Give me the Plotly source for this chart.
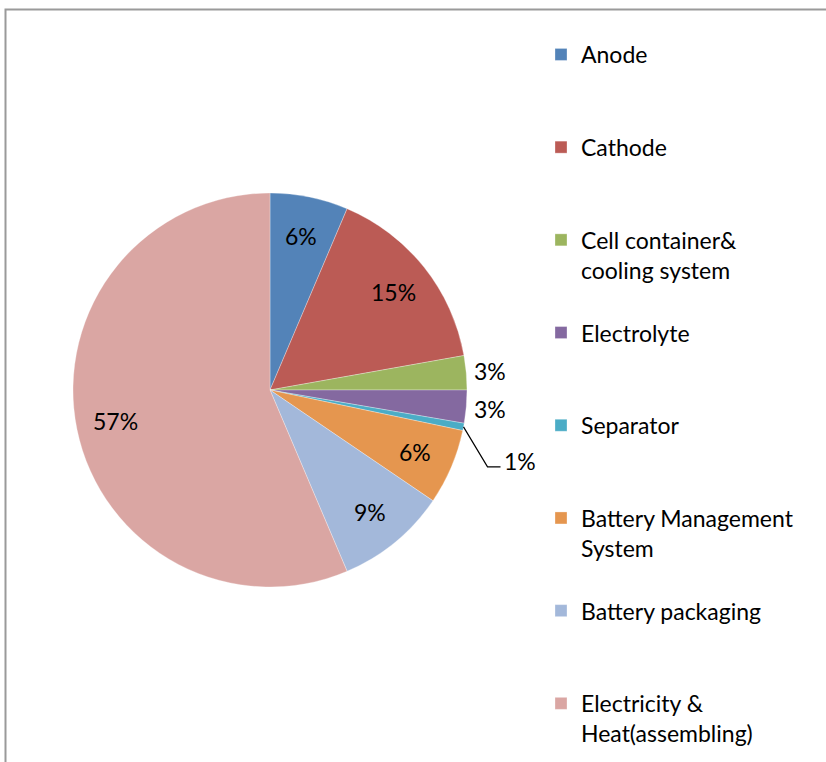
import math
import plotly.graph_objects as go

categories = ["Anode", "Cathode", "Cell container&<br>cooling system", "Electrolyte",
              "Separator", "Battery Management<br>System", "Battery packaging",
              "Electricity &<br>Heat(assembling)"]
values = [6.4, 15.8, 2.8, 2.7, 0.6, 6.2, 9.1, 56.4]
pct_labels = ["6%", "15%", "3%", "3%", "1%", "6%", "9%", "57%"]
colors = ["#5383B8", "#BB5B55", "#9CB55F", "#8469A0", "#4BACC6", "#E5964F", "#A3B8DA", "#DAA6A3"]
label_place = ["inside", "inside", "outside", "outside", "leader", "inside", "inside", "inside"]

W, H = 826, 762
cx, cy, r = 270, 390, 197

# pad legend entries to equal line counts so entries are evenly spaced
def pad(lbl, n=3):
    k = lbl.count("<br>") + 1
    return lbl + "<br> " * (n - k)

legend_labels = [pad(c) for c in categories[:-1]] + [categories[-1]]

fig = go.Figure(go.Pie(
    labels=legend_labels,
    values=values,
    textinfo="none",
    sort=False,
    direction="clockwise",
    rotation=0,
    marker=dict(colors=colors, line=dict(color="rgba(255,255,255,0.6)", width=0.5)),
    domain=dict(x=[(cx - r) / W, (cx + r) / W], y=[(H - cy - r) / H, (H - cy + r) / H]),
    hoverinfo="label+percent",
))

# data labels positioned along each slice's mid-angle (Excel-like placement)
total = sum(values)
annotations = []
shapes = [dict(type="path", xref="paper", yref="paper",
               path=f"M {5.5/W} -0.01 L {5.5/W} {1-9.5/H} L 1.01 {1-9.5/H}",
               line=dict(color="#9a9a9a", width=2))]

def to_paper(px, py):
    return px / W, (H - py) / H

cum = 0.0
for v, lab, place in zip(values, pct_labels, label_place):
    mid = (cum + v / 2) / total * 2 * math.pi
    cum += v
    sx, sy = math.sin(mid), -math.cos(mid)
    font = dict(family="Lato", size=23, color="black")
    if place in ("inside", "outside"):
        rr = r * (0.8 if place == "inside" else 1.12)
        x, y = to_paper(cx + rr * sx, cy + rr * sy)
        annotations.append(dict(x=x, y=y, xref="paper", yref="paper", text=lab,
                                showarrow=False, font=font, xanchor="center", yanchor="middle"))
    else:
        ex, ey = cx + r * sx, cy + r * sy
        kx, ky = ex + 24, ey + 40
        hx, hy = kx + 13, ky
        p0, p1, p2 = to_paper(ex, ey), to_paper(kx, ky), to_paper(hx, hy)
        shapes.append(dict(type="path", xref="paper", yref="paper",
                           path=f"M {p0[0]} {p0[1]} L {p1[0]} {p1[1]} L {p2[0]} {p2[1]}",
                           line=dict(color="black", width=1.2)))
        x, y = to_paper(hx + 1, hy - 6)
        annotations.append(dict(x=x, y=y, xref="paper", yref="paper", text=lab,
                                showarrow=False, font=font, xanchor="left", yanchor="middle"))

fig.update_layout(
    width=W, height=H,
    margin=dict(l=0, r=0, t=0, b=0),
    paper_bgcolor="white",
    font=dict(family="Lato", size=23, color="black"),
    legend=dict(x=541 / W, xanchor="left", y=1 - 33 / H, yanchor="top",
                valign="top", font=dict(family="Lato", size=23, color="black"),
                bgcolor="rgba(0,0,0,0)"),
    shapes=shapes,
    annotations=annotations,
)

fig.write_html("out.html")
